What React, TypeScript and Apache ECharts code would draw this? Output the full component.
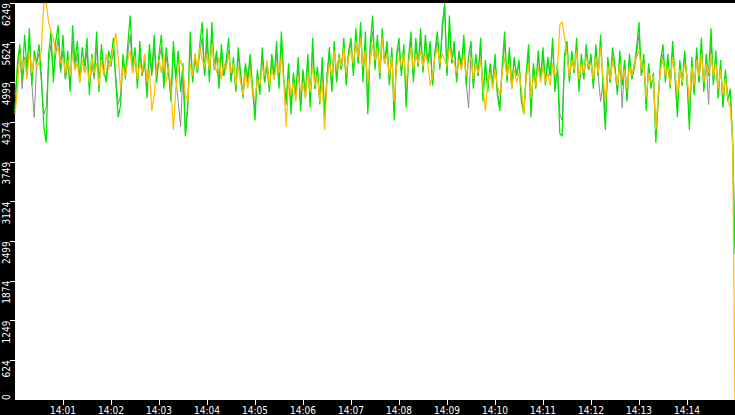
import React, { useEffect, useRef } from 'react';
import * as echarts from 'echarts';

// samples every 3 s from 14:00:00, last sample at 14:15:00
const START_HOUR = 14;
const SAMPLE_STEP_S = 3;
const END_S = 900;
const Y_MAX = 6249;
const Y_INTERVAL = Y_MAX / 10;
const MINUTE_TICKS = [60, 120, 180, 240, 300, 360, 420, 480, 540, 600, 660, 720, 780, 840];

const GRAY = [
  4800, 5200, 5500, 4900, 5400, 5100, 5600, 5000, 4450, 5300,
  5450, 5000, 4500, 4600, 5300, 5600, 5100, 5450, 5700, 5150,
  5500, 5050, 5300, 4900, 5650, 5200, 5450, 5050, 5350, 5150,
  5500, 4950, 5300, 5050, 5550, 4950, 5400, 5150, 5050, 5350,
  5250, 5500, 5100, 4650, 4800, 5300, 5050, 5450, 5750, 5150,
  5400, 5000, 5450, 5100, 5300, 4850, 5450, 5100, 5550, 5050,
  5350, 5550, 5000, 5400, 5150, 4750, 5500, 5050, 4700, 4300,
  5200, 4200, 4700, 5550, 5050, 5350, 5150, 5450, 5700, 5100,
  5650, 5050, 5700, 5200, 5400, 4950, 5450, 5100, 5300, 5500,
  5050, 5300, 4900, 5400, 5100, 4800, 5250, 5000, 5350, 4900,
  4550, 5150, 4850, 5400, 5000, 5250, 4900, 5350, 5050, 5450,
  4950, 5600, 5050, 4650, 5200, 4600, 5100, 4800, 5300, 4650,
  5150, 4800, 5350, 4700, 5500, 4900, 5200, 4700, 5300, 4400,
  5100, 5450, 4900, 5550, 5050, 5400, 5200, 5600, 5000, 5450,
  5600, 5150, 5700, 5300, 5750, 5100, 5650, 4600, 5500, 5800,
  5250, 5650, 5100, 5700, 5300, 5550, 5000, 5450, 4550, 5400,
  5550, 5150, 5500, 4700, 5350, 5650, 5050, 5550, 5250, 5650,
  5200, 5600, 5300, 5500, 5000, 5450, 5650, 5250, 5750, 6249,
  5150, 5800, 5300, 5550, 5050, 5450, 5200, 5600, 5000, 4600,
  5500, 4950, 5400, 5100, 5550, 4800, 5300, 4900, 5250, 5000,
  5350, 4850, 4650, 5200, 5600, 5050, 5450, 4950, 5350, 5100,
  5300, 4750, 4550, 5100, 5450, 4550, 5250, 4950, 5400, 5050,
  5450, 5000, 5350, 5100, 5550, 4900, 5250, 4500, 4400, 5400,
  5500, 5050, 5400, 5150, 5550, 4900, 5350, 5050, 5450, 5200,
  5350, 4950, 5450, 5100, 4700, 5000, 4400, 5300, 5000, 5400,
  5200, 4850, 5400, 4600, 5300, 4750, 5350, 5050, 5200, 5450,
  5750, 5100, 5350, 4650, 5250, 4950, 5100, 4200, 4750, 5250,
  5450, 5050, 5350, 4950, 5500, 5100, 4550, 5300, 4950, 5400,
  5050, 4400, 5300, 4850, 5450, 5000, 5550, 4900, 5350, 4650,
  5650, 5000, 5400, 4800, 5250, 4650, 5150, 4750, 4850, 4150,
  2350,
];

const GREEN = [
  4550, 5300, 5600, 5050, 5750, 5200, 5850, 4950, 5500, 5300,
  5600, 5100, 4300, 4050, 5450, 5800, 5000, 5650, 5900, 5200,
  5750, 5050, 5500, 4850, 5900, 5300, 5650, 5000, 5550, 5250,
  5700, 4800, 5450, 5100, 5800, 4850, 5600, 5200, 5000, 5500,
  5350, 5700, 5000, 4450, 4650, 5450, 5100, 5600, 6050, 5250,
  5550, 4900, 5650, 5100, 5400, 4750, 5600, 5150, 5750, 5000,
  5450, 5750, 4900, 5550, 5200, 4700, 5650, 5050, 5500, 4850,
  5300, 4150, 4600, 5800, 5000, 5450, 5150, 5600, 5950, 5100,
  5850, 5000, 5950, 5250, 5500, 4900, 5600, 5100, 5350, 5700,
  5000, 5400, 4850, 5550, 5150, 4750, 5300, 5050, 5450, 4900,
  4400, 5200, 4800, 5550, 5000, 5300, 4850, 5450, 5100, 5650,
  4900, 5800, 5050, 4700, 5300, 4500, 5150, 4800, 5400, 4550,
  5200, 4750, 5450, 4600, 5700, 4900, 5250, 4650, 5400, 4500,
  5100, 5550, 4850, 5650, 5000, 5450, 5200, 5700, 4950, 5500,
  5700, 5100, 5850, 5300, 5950, 5000, 5800, 4500, 5600, 6050,
  5200, 5750, 5050, 5850, 5300, 5650, 4950, 5550, 4400, 5450,
  5700, 5100, 5600, 4600, 5400, 5800, 5000, 5700, 5250, 5850,
  5150, 5750, 5300, 5650, 4950, 5500, 5800, 5200, 5900, 6220,
  5100, 6050, 5300, 5650, 5000, 5500, 5250, 5750, 4950, 5400,
  5650, 4900, 5450, 5100, 5700, 4700, 5350, 4850, 5300, 4950,
  5450, 4800, 4550, 5250, 5800, 5000, 5550, 4900, 5400, 5100,
  5350, 4700, 4500, 5150, 5600, 4450, 5300, 4900, 5500, 5050,
  5550, 4950, 5400, 5100, 5700, 4850, 5300, 4200, 4150, 5450,
  5650, 5000, 5500, 5150, 5700, 4850, 5450, 5050, 5600, 5200,
  5450, 4900, 5600, 5100, 5750, 4950, 4250, 5400, 5000, 5550,
  5250, 4800, 5500, 4950, 5350, 4700, 5450, 5050, 5250, 5550,
  5950, 5100, 5450, 4550, 5300, 4900, 5150, 4050, 4700, 5350,
  5600, 5000, 5450, 4900, 5650, 5100, 4450, 5350, 4950, 5500,
  5050, 4250, 5400, 4800, 5550, 5000, 5700, 4850, 5450, 5100,
  5850, 4950, 5500, 4750, 5350, 4600, 5200, 4700, 4900, 4050,
  2300,
];

const YELLOW = [
  4500, 4900, 5450, 5200, 5350, 5050, 5500, 5150, 5400, 5250,
  5300, 5500, 6249, 6249, 5950, 5800, 5700, 5450, 5550, 5300,
  5400, 5150, 5350, 5100, 5450, 5200, 5300, 5000, 5350, 5150,
  5250, 5000, 5400, 5150, 5300, 4950, 5350, 5100, 5450, 5200,
  5350, 5550, 5780, 5400, 4900, 5250, 5100, 5350, 5500, 5150,
  5400, 5050, 5300, 5150, 5450, 5000, 5200, 4550, 4800, 5250,
  5350, 5150, 5450, 5000, 5250, 4900, 4250, 4900, 5200, 5350,
  5200, 4800, 4700, 5300, 5100, 5450, 5200, 5550, 5350, 5250,
  5450, 5200, 5600, 5300, 5150, 5400, 5050, 5300, 5200, 5450,
  5150, 5300, 4950, 5250, 5000, 4800, 5150, 4900, 5200, 4800,
  4750, 5050, 4950, 5250, 5100, 5350, 4950, 5200, 5050, 5300,
  5150, 5400, 5000, 4300, 5050, 4800, 5000, 4700, 5100, 4850,
  5000, 4750, 5150, 4850, 5250, 4950, 5100, 4700, 5000, 4250,
  5000, 5300, 5100, 5500, 5200, 5400, 5250, 5550, 5150, 5400,
  5500, 5300, 5650, 5400, 5700, 5250, 5500, 5000, 5350, 5600,
  5350, 5550, 5150, 5700, 5300, 5450, 5100, 5400, 4700, 5250,
  5400, 5250, 5450, 5000, 5300, 5550, 5200, 5450, 5300, 5500,
  5250, 5450, 5300, 4950, 5100, 5400, 5550, 5300, 5450, 5350,
  5250, 5550, 5400, 5300, 5150, 5350, 5200, 5450, 5100, 5300,
  5400, 5050, 5300, 5150, 5350, 4950, 4550, 5000, 5150, 4900,
  5200, 4950, 4800, 5150, 5400, 5100, 5300, 4900, 5200, 5000,
  5150, 4900, 4500, 5050, 5300, 4750, 5100, 4950, 5250, 5000,
  5250, 5000, 5150, 4950, 5300, 5100, 5200, 5900, 5950, 5700,
  5450, 5100, 5350, 5200, 5500, 5050, 5300, 5150, 5400, 5250,
  5300, 5050, 5400, 5150, 5550, 5100, 4700, 5250, 5050, 5350,
  5150, 4950, 5300, 5050, 5200, 4900, 5250, 5100, 5300, 5400,
  5500, 5200, 5300, 4750, 5150, 5000, 5100, 4250, 4800, 5200,
  5350, 5100, 5250, 4950, 5400, 5150, 4800, 5200, 5000, 5300,
  5100, 4700, 5250, 4950, 5350, 5100, 5450, 5000, 5300, 5150,
  5450, 5100, 5300, 4900, 5200, 4800, 5050, 4750, 4600, 4100,
  0,
];

// seconds after 14:00:00 for sample index i; the final sample closes the window
const sampleTime = (i: number, n: number) => (i === n - 1 ? END_S : i * SAMPLE_STEP_S);
const toPairs = (values: number[]) => values.map((v, i) => [sampleTime(i, values.length), v]);

const LABEL_FONT = "'DejaVu Sans Condensed', 'DejaVu Sans', sans-serif";
const Y_LABEL_FONT = "'Liberation Sans Narrow', 'DejaVu Sans Condensed', 'DejaVu Sans', sans-serif";

const lineSeries = (name: string, values: number[], color: string, width: number) => ({
  name,
  type: 'line',
  data: toPairs(values),
  symbol: 'none',
  showSymbol: false,
  lineStyle: { color, width },
  emphasis: { disabled: true },
});

const App: React.FC = () => {
  const chartRef = useRef<HTMLDivElement>(null);

  useEffect(() => {
    if (!chartRef.current) return;
    const chart = echarts.init(chartRef.current, null, { renderer: 'svg' });

    chart.setOption({
      animation: false,
      backgroundColor: '#000',
      grid: {
        left: 15,
        right: 0,
        top: 0,
        bottom: 15,
        show: true,
        backgroundColor: '#fff',
        borderWidth: 0,
      },
      xAxis: {
        type: 'value',
        min: 0,
        max: END_S,
        axisLine: { show: false },
        splitLine: { show: false },
        axisTick: {
          customValues: MINUTE_TICKS,
          length: 5,
          lineStyle: { color: '#fff', width: 1 },
        },
        axisLabel: {
          customValues: MINUTE_TICKS,
          color: '#fff',
          fontSize: 10,
          fontFamily: LABEL_FONT,
          margin: 5,
          formatter: (v: number) => `${START_HOUR}:${String(Math.round(v / 60)).padStart(2, '0')}`,
        },
      },
      yAxis: [
        {
          type: 'value',
          min: 0,
          max: Y_MAX,
          interval: Y_INTERVAL,
          axisLine: { show: false },
          splitLine: { show: false },
          axisTick: { show: true, length: 5, lineStyle: { color: '#fff', width: 1 } },
          axisLabel: {
            showMinLabel: false,
            rotate: 90,
            align: 'right',
            verticalAlign: 'middle',
            color: '#fff',
            fontSize: 10,
            fontFamily: Y_LABEL_FONT,
            margin: 9,
            formatter: (v: number) => String(Math.floor(v + 1e-6)),
          },
        },
        {
          // keeps the "0" label inside the plot height
          type: 'value',
          min: 0,
          max: Y_MAX,
          position: 'left',
          axisLine: { show: false },
          splitLine: { show: false },
          axisTick: { show: false },
          axisLabel: {
            customValues: [0],
            rotate: 90,
            align: 'left',
            verticalAlign: 'middle',
            color: '#fff',
            fontSize: 10,
            fontFamily: Y_LABEL_FONT,
            margin: 9,
          },
        },
      ],
      series: [
        lineSeries('gray', GRAY, '#8c8c8c', 1),
        lineSeries('green', GREEN, '#00e600', 1.25),
        lineSeries('yellow', YELLOW, '#ffbf00', 1.25),
      ],
    });

    return () => {
      chart.dispose();
    };
  }, []);

  return (
    <div
      ref={chartRef}
      style={{ position: 'fixed', left: 0, top: 0, width: 735, height: 415 }}
    />
  );
};

export default App;
